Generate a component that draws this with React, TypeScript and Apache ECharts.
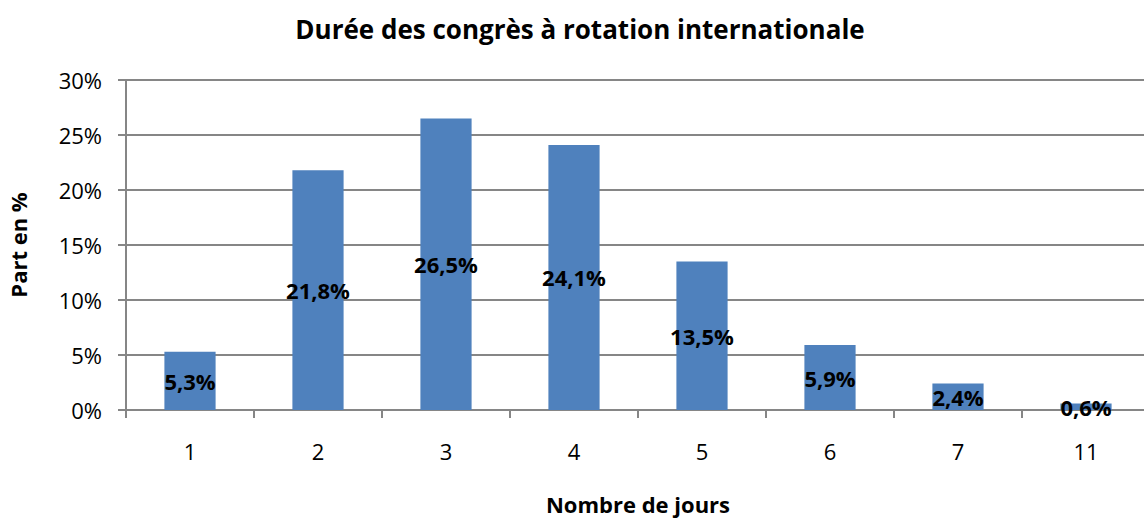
import React, { useEffect, useRef } from "react";
import * as echarts from "echarts";

const categories = ["1", "2", "3", "4", "5", "6", "7", "11"];
const values = [5.3, 21.8, 26.5, 24.1, 13.5, 5.9, 2.4, 0.6];
const titleText = "Durée des congrès à rotation internationale";
const yName = "Part en %";
const xName = "Nombre de jours";

const FONT = "'Open Sans', 'Noto Sans', sans-serif";

export default function App() {
  const ref = useRef<HTMLDivElement>(null);
  useEffect(() => {
    if (!ref.current) return;
    document.body.style.margin = "0";
    const chart = echarts.init(ref.current, null, { renderer: "svg", width: 1144, height: 518 });
    chart.setOption({
      animation: false,
      backgroundColor: "#ffffff",
      title: {
        text: titleText,
        left: 575,
        textAlign: "center",
        top: 11,
        textStyle: { fontFamily: FONT, fontWeight: "bold", fontSize: 26, color: "#000" },
      },
      grid: { left: 126, top: 80, width: 1024, height: 330, outerBoundsMode: "none", containLabel: false },
      xAxis: {
        type: "category",
        data: categories,
        name: xName,
        nameLocation: "middle",
        nameGap: 83,
        nameTextStyle: { fontFamily: FONT, fontWeight: "bold", fontSize: 22, color: "#000" },
        axisLine: { lineStyle: { color: "#868686", width: 2 } },
        axisTick: { show: true, length: 8, alignWithLabel: false, lineStyle: { color: "#868686", width: 2 } },
        axisLabel: { fontFamily: FONT, fontSize: 22, color: "#000", margin: 30 },
      },
      yAxis: {
        type: "value",
        min: 0,
        max: 30,
        interval: 5,
        name: yName,
        nameLocation: "middle",
        nameGap: 97,
        nameRotate: 90,
        nameTextStyle: { fontFamily: FONT, fontWeight: "bold", fontSize: 22, color: "#000" },
        axisLine: { show: true, lineStyle: { color: "#868686", width: 2 } },
        axisTick: { show: true, length: 8, lineStyle: { color: "#868686", width: 2 } },
        axisLabel: { fontFamily: FONT, fontSize: 22, color: "#000", margin: 24, formatter: "{value}%" },
        splitLine: { show: true, lineStyle: { color: "#868686", width: 2 } },
      },
      series: [
        {
          type: "bar",
          data: values,
          barWidth: "40%",
          itemStyle: { color: "#4F81BD" },
          label: {
            show: true,
            position: "inside",
            fontFamily: FONT,
            fontWeight: "bold",
            fontSize: 22,
            color: "#000",
            formatter: (p: any) => String(p.value).replace(".", ",") + "%",
          },
        },
      ],
    });
    return () => chart.dispose();
  }, []);
  return <div ref={ref} style={{ width: 1144, height: 518 }} />;
}
